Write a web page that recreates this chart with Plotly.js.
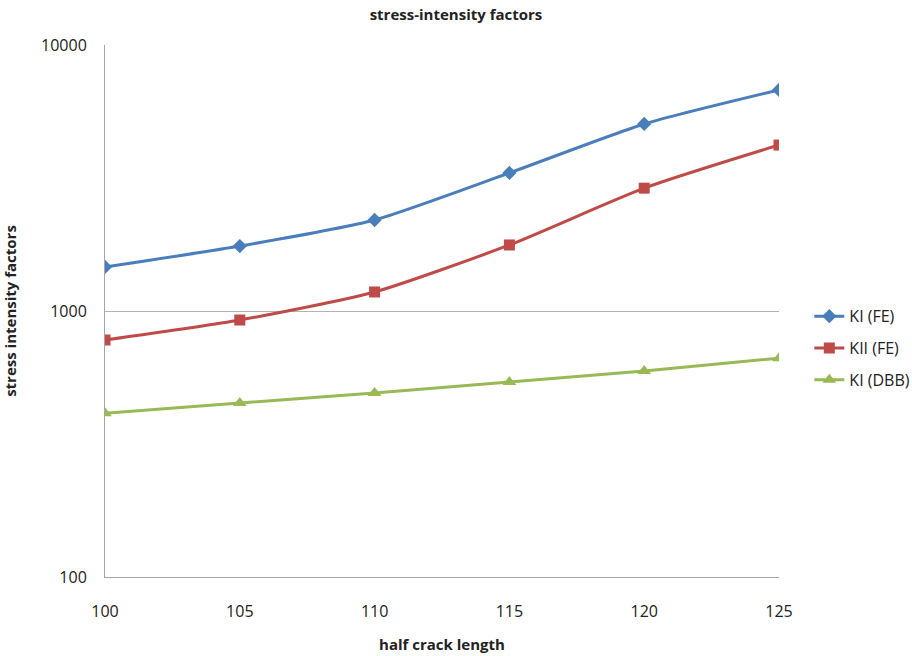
<!DOCTYPE html>
<html>
<head>
<meta charset="utf-8">
<script src="https://cdn.plot.ly/plotly-3.0.1.min.js"></script>
<style>html,body{margin:0;padding:0;background:#fff;}#chart{width:912px;height:656px;}</style>
</head>
<body>
<div id="chart"></div>
<script>
const halfCrackLength = [100, 105, 110, 115, 120, 125];
const kiFE = [1464, 1754, 2198, 3304, 5048, 6777];
const kiiFE = [778, 925, 1179, 1771, 2896, 4206];
const kiDBB = [413, 451, 492, 541, 595, 665];
const seriesNames = ["KI (FE)", "KII (FE)", "KI (DBB)"];
const xTicks = [100, 105, 110, 115, 120, 125];
const yTicks = [100, 1000, 10000];

const font = "Liberation Sans Narrow, Open Sans, Arial, sans-serif";
function tr(y, name, color, symbol, size) {
  return {
    x: halfCrackLength, y: y, name: name, type: "scatter", mode: "lines+markers",
    legendgroup: name,
    line: {color: color, width: 3, shape: "spline", smoothing: 0.6},
    marker: {color: color, symbol: symbol, size: size}
  };
}
const data = [
  tr(kiFE, seriesNames[0], "#4a7ebb", "diamond", 11),
  tr(kiiFE, seriesNames[1], "#be4b48", "square", 11),
  tr(kiDBB, seriesNames[2], "#98b954", "triangle-up", 12)
];
const layout = {
  width: 912, height: 656,
  margin: {l: 105, r: 133, t: 45, b: 79, autoexpand: false},
  paper_bgcolor: "#fff", plot_bgcolor: "#fff",
  font: {family: font, size: 15, color: "#222"},
  title: {text: "<b>stress-intensity factors</b>", font: {size: 15, family: font, color: "#222"}, x: 0.5, xanchor: "center", y: 0.985, yanchor: "top"},
  xaxis: {
    range: [100, 125], tickvals: xTicks, ticktext: xTicks.map(String),
    showgrid: false, zeroline: false, showline: true, linecolor: "#a6a6a6", linewidth: 1,
    ticks: "", ticklabelstandoff: 20, tickfont: {size: 16},
    title: {text: "<b>half crack length</b>", font: {size: 15}, standoff: 18}
  },
  yaxis: {
    type: "log", range: [2, 4], tickvals: yTicks, ticktext: yTicks.map(String),
    showgrid: true, gridcolor: "#b3b3b3", gridwidth: 1, zeroline: false,
    showline: true, linecolor: "#a6a6a6", linewidth: 1, ticks: "", ticklabelstandoff: 14,
    tickfont: {size: 16},
    title: {text: "<b>stress intensity factors</b>", font: {size: 15}, standoff: 22}
  },
  legend: {x: 1.045, y: 0.43, xanchor: "left", yanchor: "middle", font: {size: 16}, tracegroupgap: 8, itemwidth: 30},
  showlegend: true
};
Plotly.newPlot("chart", data, layout, {displayModeBar: false, staticPlot: true});
</script>
</body>
</html>
